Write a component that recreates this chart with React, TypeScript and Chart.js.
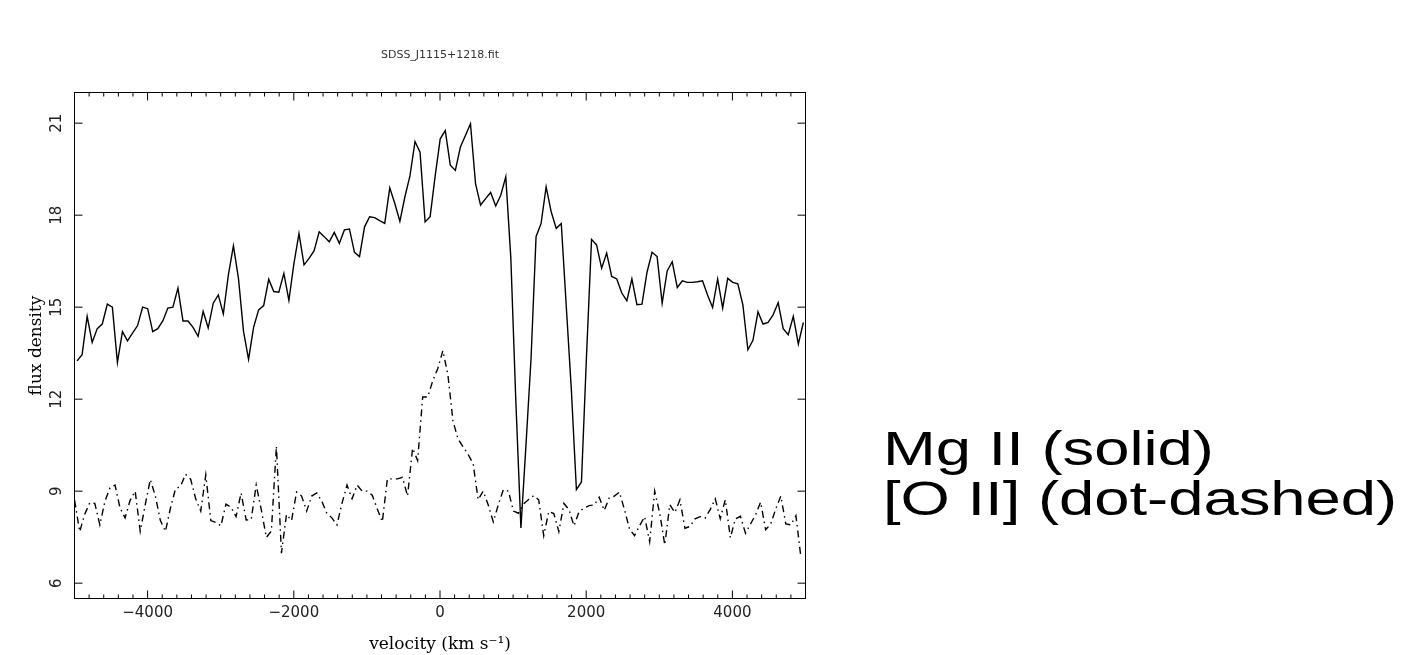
import React, { useEffect, useRef } from "react";
import { Chart, registerables } from "chart.js";

Chart.register(...registerables);

// Mg II velocity grid (km/s) and flux density
const mgVelocity = [
  -4965, -4896, -4827, -4758, -4689, -4620, -4551, -4482, -4413, -4344, -4275, -4206, -4137, -4068, -3999,
  -3930, -3861, -3792, -3723, -3654, -3585, -3516, -3447, -3378, -3309, -3240, -3171, -3102, -3033, -2964,
  -2895, -2826, -2757, -2688, -2619, -2550, -2481, -2412, -2343, -2274, -2205, -2136, -2067, -1998, -1929,
  -1860, -1791, -1722, -1653, -1584, -1515, -1446, -1377, -1308, -1239, -1170, -1101, -1032, -963, -894,
  -825, -756, -687, -618, -549, -480, -411, -342, -273, -204, -135, -66, 3, 72, 141,
  210, 279, 348, 417, 486, 555, 624, 693, 762, 831, 900, 969, 1038, 1107, 1176,
  1245, 1314, 1383, 1452, 1521, 1590, 1659, 1728, 1797, 1866, 1935, 2004, 2073, 2142, 2211,
  2280, 2349, 2418, 2487, 2556, 2625, 2694, 2763, 2832, 2901, 2970, 3039, 3108, 3177, 3246,
  3315, 3384, 3453, 3522, 3591, 3660, 3729, 3798, 3867, 3936, 4005, 4074, 4143, 4212, 4281,
  4350, 4419, 4488, 4557, 4626, 4695, 4764, 4833, 4902, 4971,
];
const mgFlux = [
  13.25, 13.45, 14.7, 13.85, 14.3, 14.45, 15.1, 15.0, 13.2, 14.2, 13.9, 14.15, 14.4, 15.0, 14.95,
  14.2, 14.3, 14.55, 14.97, 15.0, 15.62, 14.55, 14.55, 14.34, 14.05, 14.86, 14.32, 15.13, 15.4, 14.78,
  16.05, 17.0, 15.94, 14.21, 13.3, 14.34, 14.91, 15.05, 15.91, 15.51, 15.49, 16.1, 15.22, 16.43, 17.4,
  16.38, 16.59, 16.84, 17.46, 17.3, 17.13, 17.44, 17.08, 17.52, 17.55, 16.79, 16.65, 17.62, 17.95, 17.92,
  17.82, 17.73, 18.89, 18.38, 17.8, 18.6, 19.28, 20.4, 20.05, 17.78, 17.95, 19.28, 20.49, 20.76, 19.63,
  19.46, 20.22, 20.6, 20.98, 19.03, 18.33, 18.54, 18.74, 18.3, 18.65, 19.25, 16.6, 11.9, 7.8, 10.5,
  13.3, 17.3, 17.73, 18.92, 18.11, 17.57, 17.73, 15.0, 12.3, 9.05, 9.3, 13.4, 17.21, 17.03, 16.27,
  16.76, 16.0, 15.92, 15.46, 15.21, 15.92, 15.08, 15.1, 16.14, 16.79, 16.65, 15.13, 16.18, 16.48, 15.64,
  15.86, 15.81, 15.81, 15.83, 15.86, 15.4, 14.99, 15.92, 14.97, 15.94, 15.81, 15.76, 15.08, 13.61, 13.92,
  14.85, 14.45, 14.5, 14.75, 15.15, 14.3, 14.1, 14.7, 13.8, 14.5,
];

// [O II] velocity grid (km/s) and flux density
const oiiVelocity = [
  -4998, -4929, -4860, -4791, -4722, -4653, -4584, -4515, -4446, -4377, -4308, -4239, -4170, -4101, -4032,
  -3963, -3894, -3825, -3756, -3687, -3618, -3549, -3480, -3411, -3342, -3273, -3204, -3135, -3066, -2997,
  -2928, -2859, -2790, -2721, -2652, -2583, -2514, -2445, -2376, -2307, -2238, -2169, -2100, -2031, -1962,
  -1893, -1824, -1755, -1686, -1617, -1548, -1479, -1410, -1341, -1272, -1203, -1134, -1065, -996, -927,
  -858, -789, -720, -651, -582, -513, -444, -375, -306, -237, -168, -99, -30, 39, 108,
  177, 246, 315, 384, 453, 522, 591, 660, 729, 798, 867, 936, 1005, 1074, 1143,
  1212, 1281, 1350, 1419, 1488, 1557, 1626, 1695, 1764, 1833, 1902, 1971, 2040, 2109, 2178,
  2247, 2316, 2385, 2454, 2523, 2592, 2661, 2730, 2799, 2868, 2937, 3006, 3075, 3144, 3213,
  3282, 3351, 3420, 3489, 3558, 3627, 3696, 3765, 3834, 3903, 3972, 4041, 4110, 4179, 4248,
  4317, 4386, 4455, 4524, 4593, 4662, 4731, 4800, 4869, 4938,
];
const oiiFlux = [
  8.7, 7.68, 8.25, 8.62, 8.6, 7.9, 8.67, 9.11, 9.2, 8.45, 8.13, 8.7, 9.0, 7.69, 8.56,
  9.38, 8.84, 8.04, 7.69, 8.45, 9.08, 9.16, 9.55, 9.39, 8.75, 8.35, 9.53, 8.04, 7.98, 7.87,
  8.58, 8.47, 8.17, 8.94, 8.06, 8.07, 9.2, 8.4, 7.49, 7.7, 10.47, 6.98, 8.24, 8.04, 8.97,
  8.84, 8.35, 8.84, 8.94, 8.67, 8.28, 8.13, 7.9, 8.6, 9.2, 8.75, 9.2, 9.0, 9.0, 8.87,
  8.42, 8.0, 9.4, 9.4, 9.4, 9.45, 8.84, 10.4, 10.0, 12.07, 12.07, 12.6, 13.0, 13.58, 12.8,
  11.3, 10.7, 10.45, 10.2, 9.9, 8.72, 9.0, 8.55, 8.0, 8.56, 9.05, 9.0, 8.35, 8.28, 8.58,
  8.73, 8.85, 8.72, 7.55, 8.34, 8.27, 7.68, 8.6, 8.4, 7.87, 8.33, 8.45, 8.53, 8.55, 8.8,
  8.37, 8.78, 8.84, 8.97, 8.4, 7.77, 7.55, 7.87, 8.17, 7.35, 9.0, 8.28, 7.25, 8.56, 8.3,
  8.72, 7.79, 7.85, 8.1, 8.17, 8.12, 8.4, 8.75, 8.1, 8.72, 7.48, 8.1, 8.18, 7.63, 7.93,
  8.23, 8.64, 7.74, 7.93, 8.42, 8.84, 7.93, 7.9, 8.2, 6.83,
];

const xMajorTicks = [-4000, -2000, 0, 2000, 4000];
const xMinorTicks = [
  -4800, -4600, -4400, -4200, -3800, -3600, -3400, -3200, -3000, -2800, -2600, -2400, -2200,
  -1800, -1600, -1400, -1200, -1000, -800, -600, -400, -200, 200, 400, 600, 800, 1000, 1200,
  1400, 1600, 1800, 2200, 2400, 2600, 2800, 3000, 3200, 3400, 3600, 3800, 4200, 4400, 4600, 4800,
];
const yMajorTicks = [6, 9, 12, 15, 18, 21];

const titleText = "SDSS_J1115+1218.fit";
const xTitle = "velocity (km s\u207B\u00B9)";
const yTitle = "flux density";
const noteLines = ["Mg II (solid)", "[O II] (dot-dashed)"];

const TICK_FONT = { family: "'DejaVu Sans', sans-serif", size: 15 };
const AXIS_TITLE_FONT = { family: "'DejaVu Serif', serif", size: 17 };

function fmt(v: number): string {
  return v < 0 ? "\u2212" + Math.abs(v) : String(v);
}

const framePlugin = {
  id: "frameTicks",
  afterDraw(chart: any) {
    const { ctx, chartArea, scales } = chart;
    const { left, right, top, bottom } = chartArea;
    const xs = scales.x;
    const ys = scales.y;
    ctx.save();
    ctx.strokeStyle = "#000";
    ctx.lineWidth = 1;
    ctx.strokeRect(left, top, right - left, bottom - top);
    ctx.beginPath();
    const seg = (x1: number, y1: number, x2: number, y2: number) => {
      ctx.moveTo(x1, y1);
      ctx.lineTo(x2, y2);
    };
    xMinorTicks.forEach((v) => {
      const px = xs.getPixelForValue(v);
      seg(px, bottom, px, bottom - 4);
      seg(px, top, px, top + 4);
    });
    xMajorTicks.forEach((v) => {
      const px = xs.getPixelForValue(v);
      seg(px, bottom, px, bottom - 8);
      seg(px, top, px, top + 8);
    });
    yMajorTicks.forEach((v) => {
      const py = ys.getPixelForValue(v);
      seg(left, py, left + 8, py);
      seg(right, py, right - 8, py);
    });
    ctx.stroke();
    // rotated y tick labels
    ctx.fillStyle = "#222";
    ctx.font = `${TICK_FONT.size}px ${TICK_FONT.family}`;
    ctx.textAlign = "center";
    ctx.textBaseline = "middle";
    yMajorTicks.forEach((v) => {
      const py = ys.getPixelForValue(v);
      ctx.save();
      ctx.translate(left - 17, py);
      ctx.rotate(-Math.PI / 2);
      ctx.fillText(String(v), 0, 0);
      ctx.restore();
    });
    // chart title, centred over the plot frame
    ctx.fillStyle = "#333";
    ctx.font = "11px 'DejaVu Sans', sans-serif";
    ctx.textAlign = "center";
    ctx.textBaseline = "middle";
    ctx.fillText(titleText, (left + right) / 2, 55);
    ctx.restore();
  },
};

export default function App() {
  const canvasRef = useRef<HTMLCanvasElement | null>(null);

  useEffect(() => {
    if (!canvasRef.current) return;
    const chart = new Chart(canvasRef.current, {
      type: "scatter",
      data: {
        datasets: [
          {
            label: "Mg II",
            data: mgVelocity.map((v, i) => ({ x: v, y: mgFlux[i] })),
            showLine: true,
            borderColor: "#000",
            borderWidth: 1.4,
            pointRadius: 0,
            tension: 0,
            fill: false,
          },
          {
            label: "[O II]",
            data: oiiVelocity.map((v, i) => ({ x: v, y: oiiFlux[i] })),
            showLine: true,
            borderColor: "#000",
            borderWidth: 1.4,
            borderDash: [7, 4, 1.5, 4],
            pointRadius: 0,
            tension: 0,
            fill: false,
          },
        ],
      },
      options: {
        animation: false,
        responsive: false,
        maintainAspectRatio: false,
        devicePixelRatio: 1,
        layout: { padding: { left: 0, right: 74.5, top: 92.5, bottom: 0 } },
        plugins: {
          legend: { display: false },
          tooltip: { enabled: false },
          title: { display: false },
        },
        scales: {
          x: {
            type: "linear",
            min: -5000,
            max: 5000,
            afterBuildTicks: (s: any) => {
              s.ticks = xMajorTicks.map((v) => ({ value: v }));
            },
            afterFit: (s: any) => {
              s.height = 56.5;
            },
            grid: { display: false, drawTicks: false },
            border: { display: false },
            ticks: {
              color: "#222",
              font: TICK_FONT,
              padding: 6,
              maxRotation: 0,
              autoSkip: false,
              callback: (v: any) => fmt(Number(v)),
            },
            title: {
              display: true,
              text: xTitle,
              color: "#000",
              font: AXIS_TITLE_FONT,
              padding: { top: 0, bottom: 0 },
            },
          },
          y: {
            type: "linear",
            min: 5.5,
            max: 22,
            afterBuildTicks: (s: any) => {
              s.ticks = yMajorTicks.map((v) => ({ value: v }));
            },
            afterFit: (s: any) => {
              s.width = 74.5;
            },
            grid: { display: false, drawTicks: false },
            border: { display: false },
            ticks: { display: false },
            title: {
              display: true,
              text: yTitle,
              color: "#000",
              font: AXIS_TITLE_FONT,
              padding: { top: 26.8, bottom: 0 },
            },
          },
        },
      },
      plugins: [framePlugin],
    } as any);
    return () => chart.destroy();
  }, []);

  return (
    <div
      style={{
        position: "fixed",
        left: 0,
        top: 0,
        width: 1402,
        height: 655,
        background: "#fff",
        overflow: "hidden",
      }}
    >
      <canvas ref={canvasRef} width={880} height={655} style={{ position: "absolute", left: 0, top: 0 }} />
      {noteLines.map((t, i) => (
        <div
          key={i}
          style={{
            position: "absolute",
            left: 883,
            top: 425 + i * 50,
            fontFamily: "'Liberation Sans', Arial, sans-serif",
            fontSize: 48,
            lineHeight: "48px",
            color: "#000",
            whiteSpace: "nowrap",
            transform: "scaleX(1.32)",
            transformOrigin: "left top",
          }}
        >
          {t}
        </div>
      ))}
    </div>
  );
}
